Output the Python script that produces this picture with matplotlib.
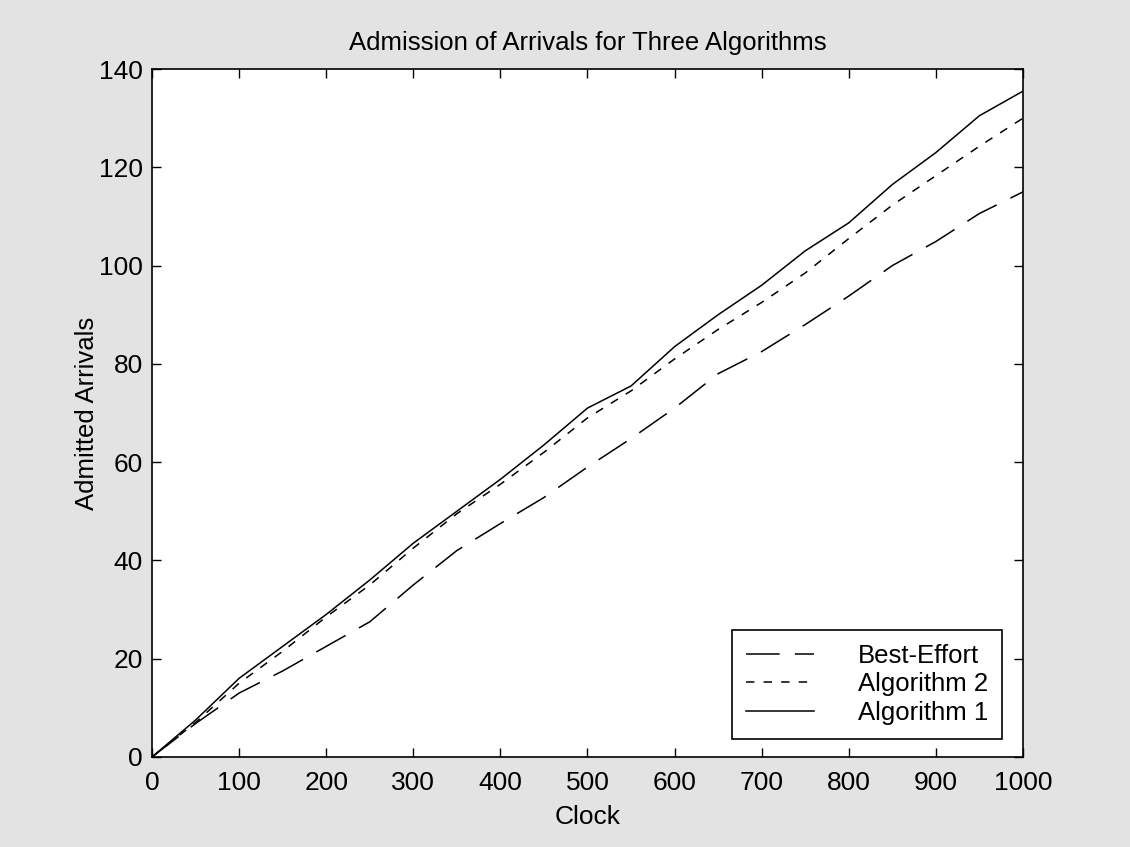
import matplotlib.pyplot as plt
import numpy as np

clock = [0, 50, 100, 150, 200, 250, 300, 350, 400, 450, 500,
         550, 600, 650, 700, 750, 800, 850, 900, 950, 1000]

best_effort = [0, 6.8, 13, 17.5, 22.5, 27.5, 35, 42, 47.5, 52.8, 59,
               64.8, 71, 78, 82.5, 88, 93.8, 100, 104.9, 110.6, 115]
algorithm2 = [0, 7, 15, 21.5, 28.5, 35, 42.5, 49.5, 55.5, 62, 69,
              74.5, 81, 87, 92.5, 98.5, 105.5, 112.3, 118.3, 124.3, 130]
algorithm1 = [0, 7.5, 16, 22.5, 29, 36, 43.5, 50, 56.5, 63.5, 71,
              75.5, 83.5, 90, 96, 103, 108.7, 116.5, 123, 130.5, 135.5]

xticks = np.arange(0, 1001, 100)
yticks = np.arange(0, 141, 20)

plt.rcParams['font.family'] = ['Liberation Sans', 'DejaVu Sans']

fig = plt.figure(figsize=(11.3, 8.47), dpi=100)
fig.patch.set_facecolor('#e3e3e3')
ax = fig.add_axes([0.1345, 0.1063, 0.7708, 0.8122])
ax.set_facecolor('white')

ax.plot(clock, best_effort, color='black', lw=1.1, dashes=(22, 10), label='Best-Effort')
ax.plot(clock, algorithm2, color='black', lw=1.1, dashes=(5.5, 6), label='Algorithm 2')
ax.plot(clock, algorithm1, color='black', lw=1.1, label='Algorithm 1')

ax.set_xlim(0, 1000)
ax.set_ylim(0, 140)
ax.set_xticks(xticks)
ax.set_yticks(yticks)
ax.tick_params(direction='in', length=6.5, width=1.0, top=True, right=True,
               labelsize=19)
ax.tick_params(axis='x', pad=10)
ax.tick_params(axis='y', pad=6.5)
for s in ax.spines.values():
    s.set_linewidth(1.2)

ax.set_title('Admission of Arrivals for Three Algorithms', fontsize=18.5, pad=14)
ax.set_xlabel('Clock', fontsize=19, labelpad=7)
ax.set_ylabel('Admitted Arrivals', fontsize=18.5, labelpad=0)

leg = ax.legend(loc='lower right', bbox_to_anchor=(0.976, 0.026), borderaxespad=0,
                fontsize=18.5, handlelength=2.65, handletextpad=1.7, labelspacing=0.18,
                fancybox=False, framealpha=1, edgecolor='black', borderpad=0.55)
leg.get_frame().set_linewidth(1.2)

fig.savefig('out.png', dpi=100, facecolor=fig.get_facecolor())
